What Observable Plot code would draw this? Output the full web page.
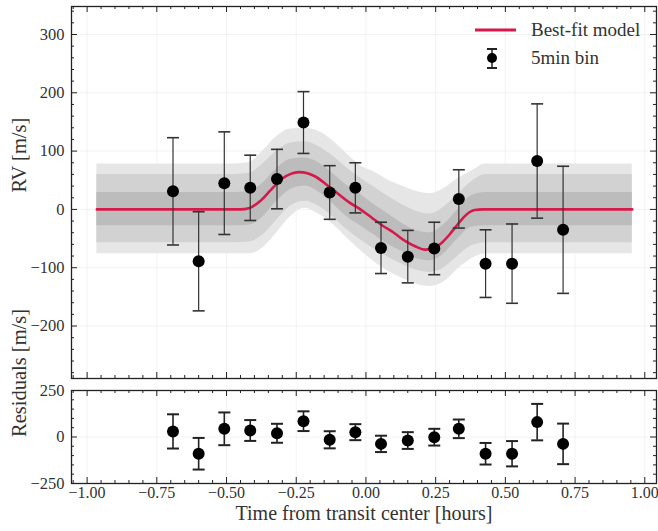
<!DOCTYPE html>
<html><head><meta charset="utf-8">
<script src="https://cdn.jsdelivr.net/npm/d3@7"></script>
<script src="https://cdn.jsdelivr.net/npm/@observablehq/plot@0.6"></script>
<style>
body{margin:0;background:#fff;}
#fig{position:relative;width:658px;height:531px;font-family:"Liberation Serif","DejaVu Serif",serif;color:#222;}
#fig svg{display:block;}
.lt{position:absolute;font-size:19px;line-height:22px;color:#333;white-space:nowrap;}
</style></head><body><div id="fig"></div>
<script>
// ---- data ----
const times = [-0.692, -0.600, -0.508, -0.415, -0.319, -0.224, -0.130, -0.038, 0.054, 0.150, 0.245, 0.333, 0.429, 0.524, 0.614, 0.707];
const rv    = [31, -89, 45, 37, 52, 149, 29, 37, -66, -81, -67, 18, -93, -93, 83, -35];
const rvErr = [92, 85, 88, 56, 51, 53, 46, 43, 44, 45, 45, 50, 58, 68, 98, 109];
const resid = [30, -90, 44, 35, 20, 85, -15, 26, -37, -19, -1, 44, -90, -90, 80, -37];

const modelT = [-0.965, -0.45, -0.42, -0.38, -0.34, -0.30, -0.27, -0.24, -0.21, -0.18, -0.14, -0.10, -0.06, -0.02, 0.02, 0.06, 0.10, 0.14, 0.18, 0.21, 0.24, 0.27, 0.30, 0.33, 0.36, 0.39, 0.42, 0.955];
const modelV = [0, 0, 2, 14, 34, 53, 61, 64, 62, 56, 42, 27, 12, 0, -14, -28, -40, -54, -64, -69, -67, -58, -43, -25, -9, -1, 0, 0];

const bandT   = [-0.965, -0.47, -0.42, -0.37, -0.32, -0.27, -0.22, -0.17, -0.12, -0.07, -0.02, 0.03, 0.08, 0.13, 0.18, 0.23, 0.28, 0.33, 0.38, 0.43, 0.955];
const band3Hi = [78, 78, 80, 100, 125, 138, 139, 134, 118, 96, 75, 64, 50, 40, 31, 27, 36, 53, 66, 78, 78];
const band3Lo = [-76, -76, -76, -66, -40, -12, 2, -8, -25, -48, -70, -90, -106, -118, -128, -132, -124, -102, -84, -76, -76];
const band2Hi = [60, 60, 62, 78, 100, 114, 116, 108, 92, 72, 54, 38, 22, 8, -3, -8, 4, 26, 48, 60, 60];
const band2Lo = [-57, -57, -56, -44, -18, 6, 14, 6, -12, -34, -52, -68, -82, -94, -104, -108, -100, -80, -62, -57, -57];
const band1Hi = [29, 29, 31, 45, 70, 86, 88, 80, 62, 42, 26, 8, -8, -24, -36, -40, -26, 0, 24, 29, 29];
const band1Lo = [-28, -28, -27, -13, 14, 34, 40, 30, 10, -12, -28, -44, -60, -72, -84, -88, -76, -50, -30, -28, -28];

const xTicks = [-1, -0.75, -0.5, -0.25, 0, 0.25, 0.5, 0.75, 1];
const rvTicks = [-200, -100, 0, 100, 200, 300];
const resTicks = [-250, 0, 250];

// ---- layout ----
const W = 658, mL = 71, mR = 2;
const xDomain = [-1.056, 1.042];
const innerW = W - mL - mR;
const topH = 384, topMT = 6, topMB = 6, topIH = topH - topMT - topMB;
const botH = 147, botMT = 6, botMB = 48, botIH = botH - botMT - botMB;

const red = "#d6184a";
const ink = "#222";
const serif = "Liberation Serif, DejaVu Serif, serif";

const pts = times.map((t, i) => ({t, v: rv[i], e: rvErr[i], r: resid[i]}));
const modelRows = modelT.map((t, i) => ({t, v: modelV[i]}));
const bandRows = bandT.map((t, i) => ({t, h3: band3Hi[i], l3: band3Lo[i], h2: band2Hi[i], l2: band2Lo[i], h1: band1Hi[i], l1: band1Lo[i]}));

const notMajor = (v, step) => Math.abs(v / step - Math.round(v / step)) > 1e-6;
const xMinor = d3.range(-21, 22).map(i => +(i * 0.05).toFixed(2)).filter(v => v >= xDomain[0] && v <= xDomain[1] && notMajor(v, 0.25));
const rvMinor = d3.range(-14, 18).map(i => i * 20).filter(v => notMajor(v, 100));
const resMinor = d3.range(-5, 6).map(i => i * 50).filter(v => notMajor(v, 250));

const cap = {draw(ctx) { ctx.moveTo(-6, 0); ctx.lineTo(6, 0); }};

function frameTicks(xMaj, xMin, yMaj, yMin, ih) {
  const s = {stroke: ink, strokeWidth: 1};
  return [
    Plot.ruleX(xMaj, {...s, insetTop: ih - 6}),
    Plot.ruleX(xMaj, {...s, insetBottom: ih - 6}),
    Plot.ruleX(xMin, {...s, insetTop: ih - 3}),
    Plot.ruleX(xMin, {...s, insetBottom: ih - 3}),
    Plot.ruleY(yMaj, {...s, insetRight: innerW - 6}),
    Plot.ruleY(yMaj, {...s, insetLeft: innerW - 6}),
    Plot.ruleY(yMin, {...s, insetRight: innerW - 3}),
    Plot.ruleY(yMin, {...s, insetLeft: innerW - 3})
  ];
}

const baseStyle = {fontFamily: serif, fontSize: "16px", color: ink, background: "white", overflow: "visible"};

const topPlot = Plot.plot({
  width: W, height: topH, marginLeft: mL, marginRight: mR, marginTop: topMT, marginBottom: topMB,
  style: baseStyle,
  x: {domain: xDomain, axis: null, label: null},
  y: {domain: [-290, 348], label: null},
  marks: [
    Plot.ruleX(xTicks, {stroke: "#000", strokeOpacity: 0.05}),
    Plot.ruleY(rvTicks, {stroke: "#000", strokeOpacity: 0.05}),
    Plot.areaY(bandRows, {x: "t", y1: "l3", y2: "h3", fill: "#e6e6e6", curve: "monotone-x"}),
    Plot.areaY(bandRows, {x: "t", y1: "l2", y2: "h2", fill: "#d2d2d2", curve: "monotone-x"}),
    Plot.areaY(bandRows, {x: "t", y1: "l1", y2: "h1", fill: "#bcbcbc", curve: "monotone-x"}),
    Plot.line(modelRows, {x: "t", y: "v", stroke: red, strokeWidth: 2.6, curve: "monotone-x"}),
    Plot.ruleX(pts, {x: "t", y1: d => d.v - d.e, y2: d => d.v + d.e, stroke: "#333", strokeWidth: 1.2}),
    Plot.dot(pts, {x: "t", y: d => d.v + d.e, symbol: cap, fill: "none", stroke: "#333", strokeWidth: 1.6}),
    Plot.dot(pts, {x: "t", y: d => d.v - d.e, symbol: cap, fill: "none", stroke: "#333", strokeWidth: 1.6}),
    Plot.dot(pts, {x: "t", y: "v", r: 6, fill: "#000", stroke: "none"}),
    ...frameTicks(xTicks, xMinor, rvTicks, rvMinor, topIH),
    Plot.axisY(rvTicks, {tickSize: 0, tickPadding: 7, tickFormat: d3.format("d"), label: null, fontSize: 16.5, fontFamily: serif, fill: "#333"}),
    Plot.frame({stroke: ink, strokeWidth: 1.3}),
    Plot.text(["RV [m/s]"], {frameAnchor: "left", rotate: -90, dx: -52, fontSize: 20.5, fontFamily: serif, fill: "#333"})
  ]
});

const botPlot = Plot.plot({
  width: W, height: botH, marginLeft: mL, marginRight: mR, marginTop: botMT, marginBottom: botMB,
  style: baseStyle,
  x: {domain: xDomain, label: null},
  y: {domain: [-250, 250], label: null},
  marks: [
    Plot.ruleX(xTicks, {stroke: "#000", strokeOpacity: 0.05}),
    Plot.ruleY(resTicks, {stroke: "#000", strokeOpacity: 0.05}),
    Plot.ruleX(pts, {x: "t", y1: d => d.r - d.e, y2: d => d.r + d.e, stroke: "#222", strokeWidth: 1.6}),
    Plot.dot(pts, {x: "t", y: d => d.r + d.e, symbol: cap, fill: "none", stroke: "#222", strokeWidth: 2}),
    Plot.dot(pts, {x: "t", y: d => d.r - d.e, symbol: cap, fill: "none", stroke: "#222", strokeWidth: 2}),
    Plot.dot(pts, {x: "t", y: "r", r: 6, fill: "#000", stroke: "none"}),
    ...frameTicks(xTicks, xMinor, resTicks, resMinor, botIH),
    Plot.axisY(resTicks, {tickSize: 0, tickPadding: 7, tickFormat: d3.format("d"), label: null, fontSize: 16.5, fontFamily: serif, fill: "#333"}),
    Plot.axisX(xTicks, {tickSize: 0, tickPadding: 3, tickFormat: d3.format(".2f"), label: null, fontSize: 16, fontFamily: serif, fill: "#333"}),
    Plot.frame({stroke: ink, strokeWidth: 1.3}),
    Plot.text(["Residuals [m/s]"], {frameAnchor: "left", rotate: -90, dx: -52, fontSize: 20.5, fontFamily: serif, fill: "#333"}),
    Plot.text(["Time from transit center [hours]"], {frameAnchor: "bottom", dy: 36, fontSize: 20, fontFamily: serif, fill: "#333"})
  ]
});

const fig = document.getElementById("fig");
fig.appendChild(topPlot);
fig.appendChild(botPlot);

// legend
const leg = document.createElement("div");
leg.innerHTML = `
<svg width="60" height="60" style="position:absolute;left:470px;top:20px;overflow:visible">
  <line x1="5" x2="46" y1="10" y2="10" stroke="${red}" stroke-width="3"/>
  <line x1="22" x2="22" y1="29" y2="48" stroke="#222" stroke-width="1.5"/>
  <line x1="17" x2="27" y1="29" y2="29" stroke="#222" stroke-width="2"/>
  <line x1="17" x2="27" y1="48" y2="48" stroke="#222" stroke-width="2"/>
  <circle cx="22" cy="38" r="5" fill="#000"/>
</svg>
<div class="lt" style="left:531px;top:19px">Best-fit model</div>
<div class="lt" style="left:531px;top:47px">5min bin</div>`;
fig.appendChild(leg);
</script>
</body></html>
